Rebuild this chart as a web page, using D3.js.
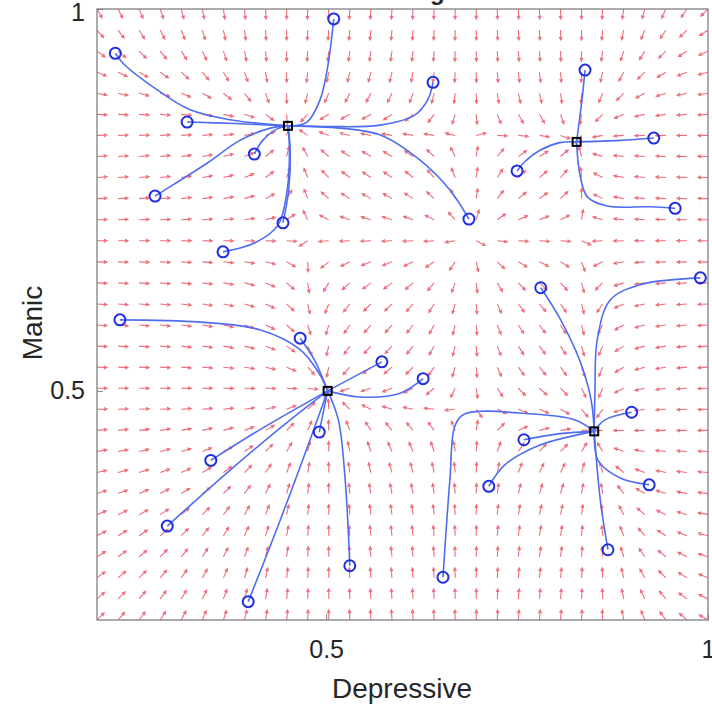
<!DOCTYPE html>
<html>
<head>
<meta charset="utf-8">
<script src="https://cdnjs.cloudflare.com/ajax/libs/d3/7.8.5/d3.min.js"></script>
<style>
  body { margin: 0; background: #fff; }
  text { font-family: "Liberation Sans", Arial, sans-serif; fill: #262626; }
</style>
</head>
<body>
<div id="chart"></div>
<script>
// fixed points (stable nodes)
var attractors = [[0.450, 0.847], [0.828, 0.826], [0.502, 0.500], [0.851, 0.447]];
var saddle = [0.69, 0.70];
var xTicks = [0.5, 1];
var yTicks = [0.5, 1];

// trajectories: first point is the start circle, last is the fixed point
var trajectories = [
  [[0.224,0.942],[0.234,0.929],[0.279,0.894],[0.322,0.868],[0.374,0.855],[0.450,0.847]],
  [[0.318,0.852],[0.380,0.850],[0.450,0.847]],
  [[0.406,0.810],[0.417,0.828],[0.436,0.843],[0.450,0.847]],
  [[0.276,0.755],[0.300,0.770],[0.344,0.798],[0.387,0.828],[0.427,0.844],[0.450,0.847]],
  [[0.510,0.987],[0.502,0.924],[0.492,0.881],[0.475,0.852],[0.450,0.847]],
  [[0.640,0.904],[0.633,0.881],[0.616,0.861],[0.571,0.848],[0.505,0.846],[0.450,0.847]],
  [[0.687,0.725],[0.662,0.763],[0.623,0.802],[0.571,0.835],[0.505,0.845],[0.450,0.847]],
  [[0.4435,0.720],[0.451,0.763],[0.453,0.815],[0.450,0.847]],
  [[0.365,0.682],[0.407,0.694],[0.437,0.717],[0.449,0.763],[0.452,0.815],[0.450,0.847]],
  [[0.839,0.920],[0.835,0.881],[0.830,0.842],[0.828,0.826]],
  [[0.929,0.831],[0.885,0.828],[0.828,0.826]],
  [[0.750,0.788],[0.760,0.800],[0.780,0.815],[0.806,0.825],[0.828,0.826]],
  [[0.957,0.739],[0.924,0.741],[0.868,0.742],[0.842,0.754],[0.832,0.785],[0.828,0.826]],
  [[0.230,0.593],[0.335,0.590],[0.413,0.580],[0.466,0.554],[0.492,0.521],[0.502,0.500]],
  [[0.466,0.569],[0.485,0.540],[0.502,0.500]],
  [[0.573,0.538],[0.502,0.500]],
  [[0.627,0.516],[0.597,0.497],[0.544,0.492],[0.502,0.500]],
  [[0.491,0.446],[0.502,0.500]],
  [[0.349,0.409],[0.413,0.449],[0.502,0.500]],
  [[0.292,0.323],[0.374,0.396],[0.453,0.462],[0.502,0.500]],
  [[0.398,0.224],[0.440,0.331],[0.479,0.436],[0.502,0.500]],
  [[0.531,0.271],[0.525,0.383],[0.516,0.462],[0.502,0.500]],
  [[0.781,0.635],[0.806,0.595],[0.832,0.540],[0.847,0.488],[0.851,0.447]],
  [[0.990,0.648],[0.911,0.639],[0.872,0.619],[0.855,0.567],[0.852,0.500],[0.851,0.447]],
  [[0.900,0.472],[0.865,0.462],[0.851,0.447]],
  [[0.759,0.436],[0.806,0.444],[0.851,0.447]],
  [[0.713,0.375],[0.734,0.403],[0.780,0.429],[0.851,0.447]],
  [[0.923,0.377],[0.885,0.386],[0.856,0.409],[0.851,0.447]],
  [[0.869,0.292],[0.859,0.357],[0.851,0.447]],
  [[0.653,0.256],[0.662,0.383],[0.669,0.455],[0.682,0.470],[0.767,0.470],[0.826,0.462],[0.851,0.447]]
];

var W = 712, H = 706;
var svg = d3.select("#chart").append("svg")
  .attr("width", W)
  .attr("height", H);

var x = d3.scaleLinear().domain([0.2, 1]).range([97, 708]);
var y = d3.scaleLinear().domain([0.2, 1]).range([620, 9]);

svg.append("clipPath").attr("id", "plotclip")
  .append("rect")
  .attr("x", 97).attr("y", 9)
  .attr("width", 611).attr("height", 611);

// vector field built from the fixed points
function lerp(a, b, t) { t = Math.max(0, Math.min(1, t)); return a + (b - a) * t; }
function field(px, py) {
  var ty = (py - attractors[2][1]) / (attractors[0][1] - attractors[2][1]);
  var a = lerp(attractors[2][0], attractors[0][0], ty);
  var b = lerp(attractors[3][0], attractors[1][0], ty);
  var tx = (px - attractors[2][0]) / (attractors[3][0] - attractors[2][0]);
  var c = lerp(attractors[2][1], attractors[3][1], tx);
  var d = lerp(attractors[0][1], attractors[1][1], tx);
  var fx = -(px - a) * (px - saddle[0]) * (px - b) * Math.exp(2.2 * px);
  var fy = -(py - c) * (py - saddle[1]) * (py - d) * Math.exp(2.2 * py);
  return [fx, fy];
}

var grid = d3.range(30).map(function(i) { return 0.2 + i * 0.8 / 29; });
var arrows = [];
grid.forEach(function(gx) {
  grid.forEach(function(gy) {
    var f = field(gx, gy);
    arrows.push({x: gx, y: gy, u: f[0], v: f[1]});
  });
});

var quiver = svg.append("g").attr("clip-path", "url(#plotclip)")
  .attr("stroke", "#e8485a")
  .attr("stroke-width", 1.1)
  .attr("stroke-opacity", 0.8)
  .attr("fill", "none");

var L = 10, HL = 3.5;
quiver.selectAll("path")
  .data(arrows)
  .enter()
  .append("path")
  .attr("d", function(d) {
    var x0 = x(d.x), y0 = y(d.y);
    var m = Math.sqrt(d.u * d.u + d.v * d.v) || 1;
    var dx = d.u / m, dy = -d.v / m;
    var x1 = x0 + dx * L, y1 = y0 + dy * L;
    var ang = Math.atan2(dy, dx);
    var h1 = [x1 - HL * Math.cos(ang - 0.45), y1 - HL * Math.sin(ang - 0.45)];
    var h2 = [x1 - HL * Math.cos(ang + 0.45), y1 - HL * Math.sin(ang + 0.45)];
    return "M" + x0 + "," + y0 + "L" + x1 + "," + y1 +
      "M" + h1[0] + "," + h1[1] + "L" + x1 + "," + y1 + "L" + h2[0] + "," + h2[1];
  });

// trajectories
var line = d3.line()
  .x(function(d) { return x(d[0]); })
  .y(function(d) { return y(d[1]); })
  .curve(d3.curveCatmullRom.alpha(0.5));

svg.append("g")
  .selectAll("path")
  .data(trajectories)
  .enter()
  .append("path")
  .attr("d", line)
  .attr("fill", "none")
  .attr("stroke", "#4f6df0")
  .attr("stroke-width", 1.6);

svg.append("g")
  .selectAll("circle")
  .data(trajectories)
  .enter()
  .append("circle")
  .attr("cx", function(d) { return x(d[0][0]); })
  .attr("cy", function(d) { return y(d[0][1]); })
  .attr("r", 5.5)
  .attr("fill", "none")
  .attr("stroke", "#1f2fe0")
  .attr("stroke-width", 2);

svg.append("g")
  .selectAll("rect")
  .data(attractors)
  .enter()
  .append("rect")
  .attr("x", function(d) { return x(d[0]) - 4; })
  .attr("y", function(d) { return y(d[1]) - 4; })
  .attr("width", 8)
  .attr("height", 8)
  .attr("fill", "none")
  .attr("stroke", "#000")
  .attr("stroke-width", 2);

// axes box
svg.append("rect")
  .attr("x", 97).attr("y", 9)
  .attr("width", 611).attr("height", 611)
  .attr("fill", "none")
  .attr("stroke", "#808080")
  .attr("stroke-width", 1.3);

var fmt = function(d) { return d === 1 ? "1" : d3.format(".1f")(d); };
var xAxis = d3.axisBottom(x).tickValues(xTicks).tickSize(-6).tickPadding(20).tickFormat(fmt);
var yAxis = d3.axisLeft(y).tickValues(yTicks).tickSize(-6).tickPadding(12).tickFormat(fmt);

var gx = svg.append("g").attr("transform", "translate(0,620)").call(xAxis);
var gy = svg.append("g").attr("transform", "translate(97,0)").call(yAxis);
[gx, gy].forEach(function(g) {
  g.select(".domain").remove();
  g.selectAll(".tick line").attr("stroke", "#808080");
  g.selectAll(".tick text")
    .attr("font-size", 25)
    .attr("font-family", "Liberation Sans, Arial, sans-serif")
    .attr("fill", "#262626");
});
gy.selectAll(".tick text").filter(function(d) { return d === 1; }).attr("dy", "0.45em");

svg.append("text")
  .attr("x", 402).attr("y", 698)
  .attr("text-anchor", "middle")
  .attr("font-size", 28)
  .text("Depressive");

svg.append("text")
  .attr("transform", "translate(42,323) rotate(-90)")
  .attr("text-anchor", "middle")
  .attr("font-size", 28)
  .text("Manic");

svg.append("text")
  .attr("x", 402).attr("y", 0)
  .attr("text-anchor", "middle")
  .attr("font-size", 24)
  .attr("font-weight", "bold")
  .attr("fill", "#000")
  .text("Phase Diagram");
</script>
</body>
</html>
